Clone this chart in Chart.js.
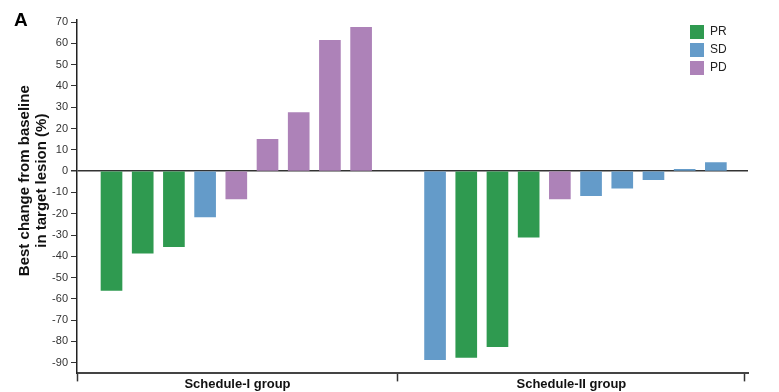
<!DOCTYPE html>
<html>
<head>
<meta charset="utf-8">
<script src="https://cdn.jsdelivr.net/npm/chart.js@4.4.1/dist/chart.umd.min.js"></script>
<style>
  html, body { margin: 0; padding: 0; background: #ffffff; }
  #wrap { position: relative; width: 779px; height: 392px; }
</style>
</head>
<body>
<div id="wrap"><canvas id="c" width="779" height="392"></canvas></div>
<script>
// ---- data ----
const panelLabel = 'A';
const groupLabels = ['Schedule-I group', 'Schedule-II group'];
const responseTypes = ['PR', 'SD', 'PD'];
const schedule1Values = [-56, -38.5, -35.5, -21.5, -13, 15, 27.5, 61.5, 67.5];
const schedule1Response = ['PR', 'PR', 'PR', 'SD', 'PD', 'PD', 'PD', 'PD', 'PD'];
const schedule2Values = [-88.5, -87.5, -82.5, -31, -13, -11.5, -8, -4, 0.8, 4];
const schedule2Response = ['SD', 'PR', 'PR', 'PR', 'PD', 'SD', 'SD', 'SD', 'SD', 'SD'];
const yTickValues = [70, 60, 50, 40, 30, 20, 10, 0, -10, -20, -30, -40, -50, -60, -70, -80, -90];
const yTitle = ['Best change from baseline', 'in target lesion (%)'];

// ---- styling / layout ----
const colors = { PR: '#2f9a50', SD: '#649bc9', PD: '#ad82b8' };
const X_MIN = -1.106, X_MAX = 20.40;
const G2_START = 10.37, DIVIDER = 9.18, AXIS_END = 20.30;
const CENTER1 = (X_MIN + DIVIDER) / 2, CENTER2 = (DIVIDER + AXIS_END) / 2;
const xTickPositions = [X_MIN, CENTER1, DIVIDER, CENTER2, AXIS_END];

function buildDatasets() {
  return responseTypes.map(r => {
    const pts = [];
    schedule1Values.forEach((v, i) => { if (schedule1Response[i] === r) pts.push({ x: i, y: v }); });
    schedule2Values.forEach((v, j) => { if (schedule2Response[j] === r) pts.push({ x: G2_START + j, y: v }); });
    return {
      label: r,
      data: pts,
      backgroundColor: colors[r],
      borderWidth: 0,
      barThickness: 21,
      grouped: false
    };
  });
}

const panelPlugin = {
  id: 'panelLabel',
  afterDraw(chart) {
    const ctx = chart.ctx;
    ctx.save();
    ctx.fillStyle = '#000';
    ctx.font = 'bold 19px "Liberation Sans", Arial, sans-serif';
    ctx.textBaseline = 'alphabetic';
    ctx.fillText(panelLabel, 14, 26);
    ctx.restore();
  }
};

const layoutTweaks = {
  id: 'layoutTweaks',
  afterLayout(chart) {
    const lg = chart.legend;
    if (lg) {
      const w = lg.width, h = lg.height;
      lg.left = 686; lg.top = 21;
      lg.right = lg.left + w; lg.bottom = lg.top + h;
    }
    const ys = chart.scales.y;
    if (ys && !ys._titleShifted) {
      const orig = ys.drawTitle;
      ys.drawTitle = function () {
        const b = this.bottom;
        this.bottom = b - 32;
        orig.call(this);
        this.bottom = b;
      };
      ys._titleShifted = true;
    }
  }
};

new Chart(document.getElementById('c'), {
  type: 'bar',
  data: { datasets: buildDatasets() },
  options: {
    responsive: false,
    animation: false,
    devicePixelRatio: 1,
    layout: { padding: { left: 0, top: 20, right: 31, bottom: 0 } },
    plugins: {
      legend: {
        position: 'chartArea',
        align: 'start',
        labels: {
          boxWidth: 14, boxHeight: 14, padding: 4,
          color: '#222',
          font: { family: '"Liberation Sans", Arial, sans-serif', size: 12 }
        }
      },
      tooltip: { enabled: false }
    },
    scales: {
      x: {
        type: 'linear',
        offset: false,
        min: X_MIN, max: X_MAX,
        afterBuildTicks(s) { s.ticks = xTickPositions.map(v => ({ value: v })); },
        afterFit(s) { s.height = 18.6; },
        border: { display: true, color: '#444', width: 2 },
        grid: {
          display: true,
          offset: false,
          drawOnChartArea: false,
          drawTicks: true,
          tickLength: 8,
          tickWidth: 1.5,
          tickColor: (ctx) => (ctx.index === 1 || ctx.index === 3) ? 'rgba(0,0,0,0)' : '#333'
        },
        ticks: {
          autoSkip: false, maxRotation: 0, minRotation: 0,
          padding: -5,
          color: '#111',
          font: { family: '"Liberation Sans", Arial, sans-serif', size: 13, weight: 'bold' },
          callback: (v, i) => i === 1 ? groupLabels[0] : (i === 3 ? groupLabels[1] : '')
        }
      },
      y: {
        type: 'linear',
        min: -95, max: 71,
        afterBuildTicks(s) { s.ticks = yTickValues.map(v => ({ value: v })); },
        afterFit(s) { s.width = 77; },
        border: { display: true, color: '#222', width: 1.5 },
        grid: {
          display: true,
          drawOnChartArea: true,
          drawTicks: true,
          tickLength: 6,
          tickColor: '#333',
          color: (ctx) => (ctx.tick && ctx.tick.value === 0) ? '#333' : 'rgba(0,0,0,0)',
          lineWidth: (ctx) => (ctx.tick && ctx.tick.value === 0) ? 1.5 : 1
        },
        ticks: {
          padding: 3,
          color: '#333',
          font: { family: '"Liberation Sans", Arial, sans-serif', size: 11 },
          callback: (v) => String(v)
        },
        title: {
          display: true,
          text: yTitle,
          color: '#111',
          padding: { top: 16, bottom: 0 },
          font: { family: '"Liberation Sans", Arial, sans-serif', size: 15, weight: 'bold', lineHeight: 1.13 }
        }
      }
    }
  },
  plugins: [panelPlugin, layoutTweaks]
});
</script>
</body>
</html>
